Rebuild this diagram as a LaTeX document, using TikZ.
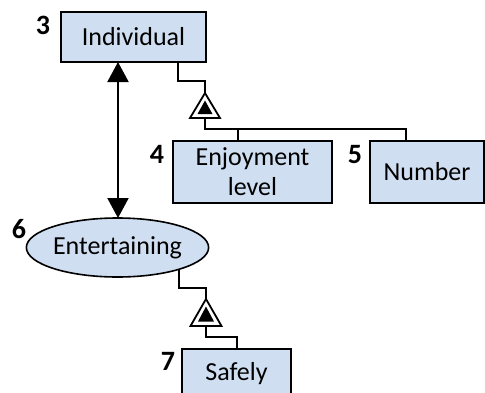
\documentclass[tikz,border=0pt]{standalone}
\usepackage{fontspec}
\setmainfont{Carlito}
\usetikzlibrary{arrows.meta,shapes.geometric}
\definecolor{boxblue}{RGB}{207,222,240}
\tikzset{
  entity/.style={draw=black, line width=1.6pt, fill=boxblue, inner sep=0pt,
    font=\fontsize{26}{30}\selectfont, align=center},
  numlabel/.style={font=\fontsize{28}{30}\selectfont\bfseries, inner sep=0pt},
  conn/.style={draw=black, line width=2pt},
  gentri/.style={draw=black, line width=1.8pt, fill=white, line join=miter},
  gencore/.style={fill=black}
}
\begin{document}
\begin{tikzpicture}[x=1pt,y=-1pt]
\useasboundingbox (0,0) rectangle (485,392);
% entities
\node[entity, minimum width=145pt, minimum height=50pt] (ind) at (133.5,37) {Individual};
\node[entity, minimum width=159pt, minimum height=62pt] (enj) at (252.5,172) {Enjoyment\\level};
\node[entity, minimum width=114pt, minimum height=62pt] (num) at (427,172) {Number};
\node[entity, ellipse, minimum width=177pt, minimum height=59pt] (ent) at (117.5,247.5) {Entertaining};
\node[entity, minimum width=109pt, minimum height=50pt] (saf) at (236.5,374) {Safely};
% numbers
\node[numlabel] (l3) at (43,25.5) {3};
\node[numlabel] (l4) at (157,154.5) {4};
\node[numlabel] (l5) at (355,154.5) {5};
\node[numlabel] (l6) at (19,229.5) {6};
\node[numlabel] (l7) at (168,361.5) {7};
% double arrow
\coordinate (atop) at (118,62);
\coordinate (abot) at (118,218);
\draw[conn, {Triangle[width=21pt,length=20pt]}-{Triangle[width=21pt,length=20pt]}] (atop) -- (abot);
% first generalization
\coordinate (g1s) at (178,62);
\coordinate (g1a) at (205,93);
\coordinate (g1b) at (205,118);
\draw[conn] (g1s) -- (178,81) -- (205,81) -- (g1a);
\draw[gentri] (g1a) -- (190,118) -- (220,118) -- cycle;
\fill[gencore] (205,100.5) -- (197.5,114) -- (212.5,114) -- cycle;
\coordinate (g1j) at (205,129);
\coordinate (e1) at (238,141);
\coordinate (n1) at (406,141);
\draw[conn] (g1b) -- (g1j) -- (406,129) -- (n1);
\draw[conn] (238,129) -- (e1);
% second generalization
\coordinate (g2s) at (179,268.7);
\coordinate (g2a) at (206,299);
\coordinate (g2b) at (206,326);
\draw[conn] (g2s) -- (179,288) -- (206,288) -- (g2a);
\draw[gentri] (g2a) -- (190.5,326) -- (221.5,326) -- cycle;
\fill[gencore] (206,306.5) -- (198,321.5) -- (214,321.5) -- cycle;
\coordinate (s1) at (237,349);
\draw[conn] (g2b) -- (206,337) -- (237,337) -- (s1);
\end{tikzpicture}
\end{document}
